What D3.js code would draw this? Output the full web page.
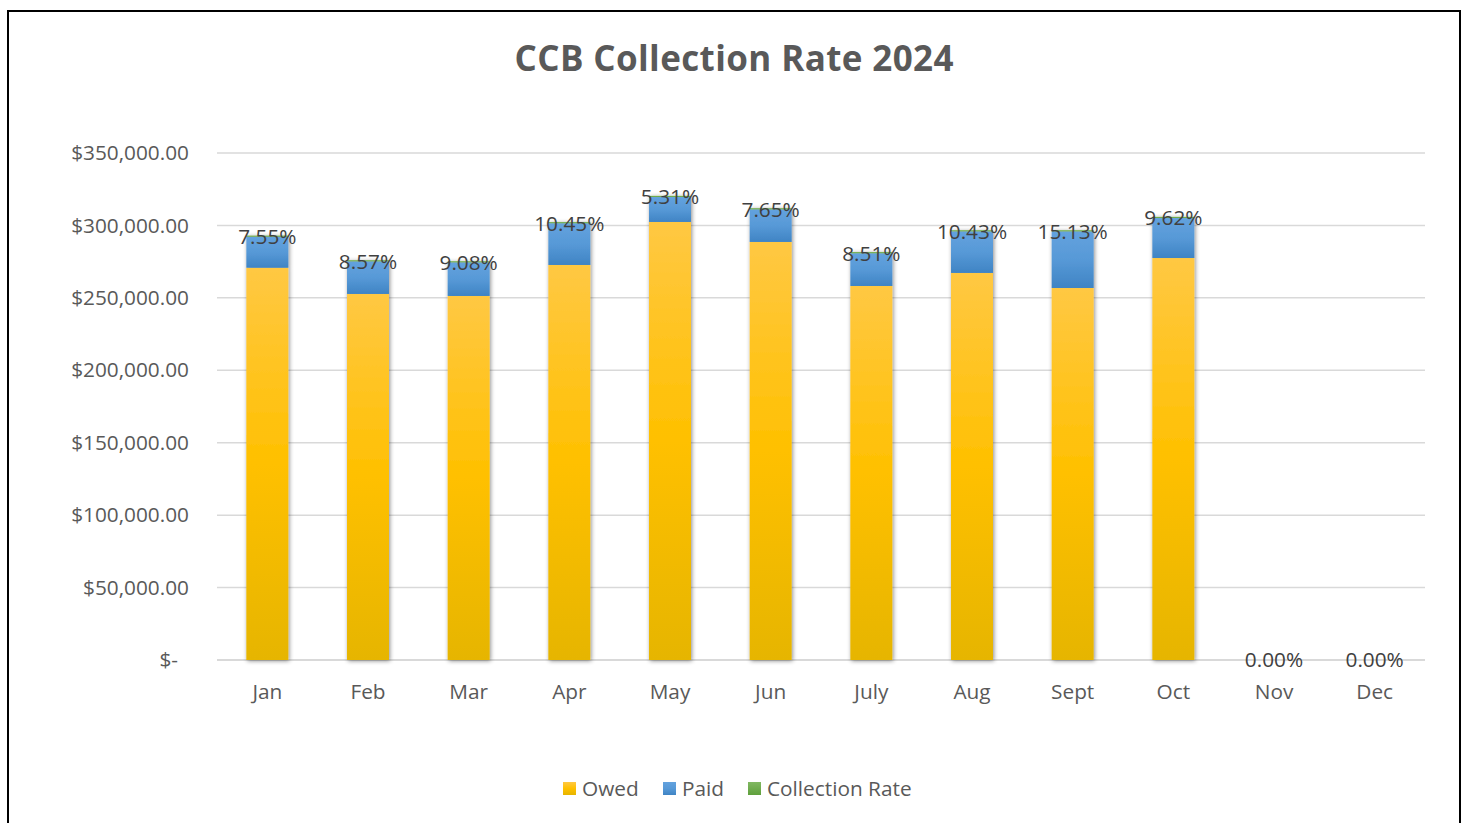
<!DOCTYPE html>
<html>
<head>
<meta charset="utf-8">
<script src="https://cdn.jsdelivr.net/npm/d3@7"></script>
<style>
  body { margin: 0; background: #fff; }
  text { font-family: "Open Sans", "Noto Sans", sans-serif; }
</style>
</head>
<body>
<script>
// values
const months = ["Jan", "Feb", "Mar", "Apr", "May", "Jun", "July", "Aug", "Sept", "Oct", "Nov", "Dec"];
const owed = [270800, 252700, 251300, 272700, 302400, 288600, 258200, 267200, 256800, 277500, 0, 0];
const paid = [21400, 22500, 23200, 28800, 17200, 22500, 22600, 28700, 39100, 27600, 0, 0];
const rate = [0.0755, 0.0857, 0.0908, 0.1045, 0.0531, 0.0765, 0.0851, 0.1043, 0.1513, 0.0962, 0, 0];
const yTicks = [0, 50000, 100000, 150000, 200000, 250000, 300000, 350000];
const seriesNames = ["Owed", "Paid", "Collection Rate"];

const w = 1466;
const h = 823;
const plot = { left: 217, right: 1425, top: 153, bottom: 660 };
const fontSize = "20.8px";

let svg = d3.select("body")
  .append("svg")
  .attr("width", w)
  .attr("height", h);

let defs = svg.append("defs");

// gradients for the bars
let gOwed = defs.append("linearGradient").attr("id", "gOwed")
  .attr("x1", 0).attr("y1", 0).attr("x2", 0).attr("y2", 1);
gOwed.append("stop").attr("offset", "0%").attr("stop-color", "#ffc843");
gOwed.append("stop").attr("offset", "50%").attr("stop-color", "#ffc000");
gOwed.append("stop").attr("offset", "100%").attr("stop-color", "#e6b500");

let gPaid = defs.append("linearGradient").attr("id", "gPaid")
  .attr("x1", 0).attr("y1", 0).attr("x2", 0).attr("y2", 1);
gPaid.append("stop").attr("offset", "0%").attr("stop-color", "#63a2de");
gPaid.append("stop").attr("offset", "50%").attr("stop-color", "#5799d7");
gPaid.append("stop").attr("offset", "100%").attr("stop-color", "#3f84c4");

let gRate = defs.append("linearGradient").attr("id", "gRate")
  .attr("x1", 0).attr("y1", 0).attr("x2", 0).attr("y2", 1);
gRate.append("stop").attr("offset", "0%").attr("stop-color", "#81b862");
gRate.append("stop").attr("offset", "100%").attr("stop-color", "#5fa03c");

// soft shadow like excel
let shadow = defs.append("filter").attr("id", "shadow")
  .attr("x", "-30%").attr("y", "-10%").attr("width", "160%").attr("height", "120%");
shadow.append("feDropShadow")
  .attr("dx", 1).attr("dy", 1)
  .attr("stdDeviation", 2.2)
  .attr("flood-color", "#000")
  .attr("flood-opacity", 0.45);

// chart frame
svg.append("rect")
  .attr("x", 8).attr("y", 11)
  .attr("width", 1452).attr("height", 830)
  .attr("fill", "#fff")
  .attr("stroke", "#000")
  .attr("stroke-width", 2);

// title
svg.append("text")
  .attr("x", 734).attr("y", 71)
  .attr("text-anchor", "middle")
  .attr("fill", "#595959")
  .style("font-size", "35px")
  .style("font-weight", "bold")
  .attr("textLength", 439)
  .text("CCB Collection Rate 2024");

// scales
let x = d3.scaleBand()
  .domain(months)
  .range([plot.left, plot.right])
  .paddingInner(0.583)
  .paddingOuter(0.2915);

let y = d3.scaleLinear()
  .domain([0, 350000])
  .range([plot.bottom, plot.top]);

// gridlines
svg.append("g")
  .selectAll("line")
  .data(yTicks)
  .enter()
  .append("line")
  .attr("x1", plot.left)
  .attr("x2", plot.right)
  .attr("y1", d => y(d))
  .attr("y2", d => y(d))
  .attr("stroke", "#d9d9d9")
  .attr("stroke-width", d => d === 0 ? 2 : 1.5);

// y axis labels
let yAxis = d3.axisLeft(y)
  .tickValues(yTicks)
  .tickSize(0)
  .tickPadding(0)
  .tickFormat(d => d === 0 ? "$-" : d3.format("$,.2f")(d));

let yg = svg.append("g")
  .attr("transform", "translate(189,0)")
  .call(yAxis);
yg.select(".domain").remove();
yg.selectAll("text")
  .attr("fill", "#595959")
  .style("font-size", fontSize)
  .attr("dx", d => d === 0 ? -11 : 0);

// x axis labels
let xAxis = d3.axisBottom(x).tickSize(0).tickPadding(0);
let xg = svg.append("g")
  .attr("transform", "translate(0," + 692 + ")")
  .call(xAxis);
xg.select(".domain").remove();
xg.selectAll("text")
  .attr("fill", "#595959")
  .attr("dy", "0.35em")
  .style("font-size", fontSize);

// stacked data
let rows = months.map((m, i) => ({ month: m, Owed: owed[i], Paid: paid[i], "Collection Rate": rate[i] }));
let stacked = d3.stack().keys(seriesNames)(rows);
let fills = { "Owed": "url(#gOwed)", "Paid": "url(#gPaid)", "Collection Rate": "url(#gRate)" };

let barsG = svg.append("g");
rows.forEach(function(r, i) {
  if (r.Owed + r.Paid <= 0) { return; }
  let bar = barsG.append("g").attr("filter", "url(#shadow)");
  stacked.forEach(function(s) {
    let seg = s[i];
    let segTop = y(seg[1]);
    let hgt = y(seg[0]) - y(seg[1]);
    if (s.key === "Collection Rate") {
      // too small to see at this scale, excel still leaves a hairline
      hgt = 1.2;
      segTop = y(seg[0]) - hgt;
    }
    bar.append("rect")
      .attr("x", x(r.month))
      .attr("y", segTop)
      .attr("width", x.bandwidth())
      .attr("height", hgt)
      .attr("fill", fills[s.key]);
  });
});

// collection rate labels at the top of each stack
let lastSeries = stacked[stacked.length - 1];
svg.append("g")
  .selectAll("text")
  .data(rows)
  .enter()
  .append("text")
  .attr("x", d => x(d.month) + x.bandwidth() / 2)
  .attr("y", (d, i) => y(lastSeries[i][1]))
  .attr("dy", "0.35em")
  .attr("text-anchor", "middle")
  .attr("fill", "#404040")
  .style("font-size", fontSize)
  .text(d => d3.format(".2%")(d["Collection Rate"]));

// legend
let legendColors = ["url(#gOwed)", "url(#gPaid)", "url(#gRate)"];
let legendX = [563, 663, 748];
let legend = svg.append("g");
seriesNames.forEach(function(name, i) {
  legend.append("rect")
    .attr("x", legendX[i])
    .attr("y", 782)
    .attr("width", 13)
    .attr("height", 13)
    .attr("fill", legendColors[i]);
  legend.append("text")
    .attr("x", legendX[i] + 19)
    .attr("y", 789)
    .attr("dy", "0.35em")
    .attr("fill", "#595959")
    .style("font-size", fontSize)
    .text(name);
});
</script>
</body>
</html>
